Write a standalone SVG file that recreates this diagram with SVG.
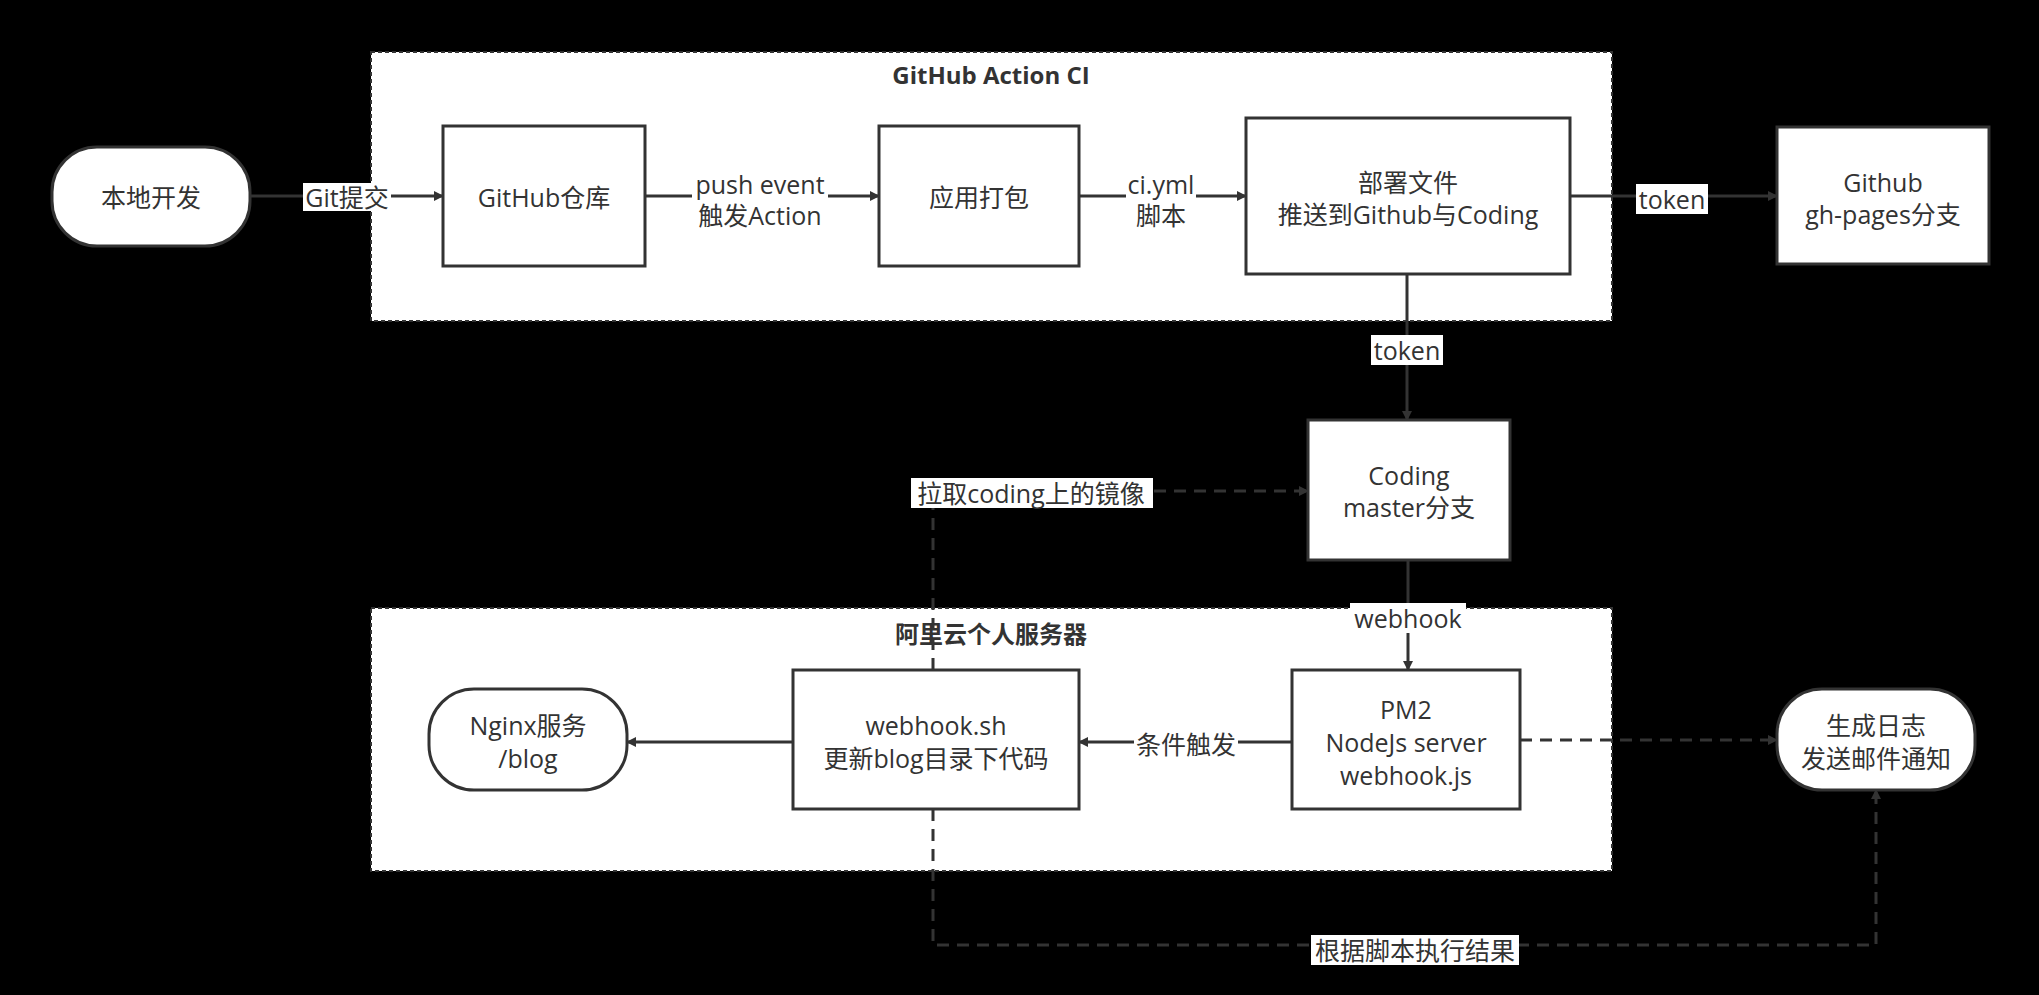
<svg xmlns="http://www.w3.org/2000/svg" width="2039" height="995" viewBox="0 0 2039 995">
<style>
text{font-family:"Open Sans","Noto Sans CJK SC",sans-serif;font-size:25px;fill:#333;text-anchor:middle;dominant-baseline:central}
.t{font-weight:bold;font-size:24px}
.n{fill:#fff;stroke:#333;stroke-width:3}
.g{fill:#fff;stroke:#333;stroke-width:2;stroke-dasharray:4 3}
.c{fill:none;stroke:#333;stroke-width:3}
.d{stroke-dasharray:12 8}
.lb{fill:#fff}
</style>
<defs><marker id="a" markerWidth="10" markerHeight="10" refX="9" refY="5" orient="auto" markerUnits="userSpaceOnUse" viewBox="0 0 10 10"><path d="M0,0 L10,5 L0,10 Z" fill="#333"/></marker></defs>
<rect width="2039" height="995" fill="#000"/>
<g id="ci"><rect class="g" x="371" y="52" width="1241" height="269"/><text class="t" x="991" y="74">GitHub Action CI</text></g>
<g id="server"><rect class="g" x="371" y="608" width="1241" height="263"/><text class="t" x="991" y="633">阿里云个人服务器</text></g>
<g id="connectors">
<path class="c" d="M250,196 H443" marker-end="url(#a)"/>
<path class="c" d="M645,196 H879" marker-end="url(#a)"/>
<path class="c" d="M1079,196 H1246" marker-end="url(#a)"/>
<path class="c" d="M1570,196 H1777" marker-end="url(#a)"/>
<path class="c" d="M1407,274 V420" marker-end="url(#a)"/>
<path class="c" d="M1408,560 V670" marker-end="url(#a)"/>
<path class="c" d="M1292,742 H1079" marker-end="url(#a)"/>
<path class="c" d="M793,742 H627" marker-end="url(#a)"/>
<path class="c d" d="M933,670 V491 H1308" marker-end="url(#a)"/>
<path class="c d" d="M1520,740 H1777" marker-end="url(#a)"/>
<path class="c d" d="M933,809 V945 H1876 V790" marker-end="url(#a)"/>
<rect class="lb" x="303" y="183" width="88" height="28"/><text x="347" y="197">Git提交</text>
<rect class="lb" x="692" y="168" width="136" height="62"/><text x="760" y="184">push event</text><text x="760" y="215">触发Action</text>
<rect class="lb" x="1126" y="168" width="70" height="62"/><text x="1161" y="184">ci.yml</text><text x="1161" y="215">脚本</text>
<rect class="lb" x="1636" y="184" width="72" height="30"/><text x="1672" y="199">token</text>
<rect class="lb" x="1371" y="335" width="72" height="30"/><text x="1407" y="350">token</text>
<rect class="lb" x="1350" y="603" width="116" height="30"/><text x="1408" y="618">webhook</text>
<rect class="lb" x="1134" y="729" width="104" height="30"/><text x="1186" y="744">条件触发</text>
<rect class="lb" x="911" y="478" width="242" height="30"/><text x="1031" y="493">拉取coding上的镜像</text>
<rect class="lb" x="1311" y="935" width="208" height="30"/><text x="1415" y="950">根据脚本执行结果</text>
</g>
<g id="local"><rect class="n" x="52" y="147" width="198" height="99" rx="45"/><text x="151" y="197">本地开发</text></g>
<g id="repo"><rect class="n" x="443" y="126" width="202" height="140"/><text x="544" y="197">GitHub仓库</text></g>
<g id="pack"><rect class="n" x="879" y="126" width="200" height="140"/><text x="979" y="197">应用打包</text></g>
<g id="deploy"><rect class="n" x="1246" y="118" width="324" height="156"/><text x="1408" y="182">部署文件</text><text x="1408" y="214">推送到Github与Coding</text></g>
<g id="ghpages"><rect class="n" x="1777" y="127" width="212" height="137"/><text x="1883" y="182">Github</text><text x="1883" y="214">gh-pages分支</text></g>
<g id="coding"><rect class="n" x="1308" y="420" width="202" height="140"/><text x="1409" y="475">Coding</text><text x="1409" y="507">master分支</text></g>
<g id="nginx"><rect class="n" x="429" y="689" width="198" height="101" rx="45"/><text x="528" y="725">Nginx服务</text><text x="528" y="758">/blog</text></g>
<g id="webhooksh"><rect class="n" x="793" y="670" width="286" height="139"/><text x="936" y="725">webhook.sh</text><text x="936" y="758">更新blog目录下代码</text></g>
<g id="pm2"><rect class="n" x="1292" y="670" width="228" height="139"/><text x="1406" y="709">PM2</text><text x="1406" y="742">NodeJs server</text><text x="1406" y="775">webhook.js</text></g>
<g id="log"><rect class="n" x="1777" y="689" width="198" height="101" rx="45"/><text x="1876" y="725">生成日志</text><text x="1876" y="758">发送邮件通知</text></g>
</svg>
